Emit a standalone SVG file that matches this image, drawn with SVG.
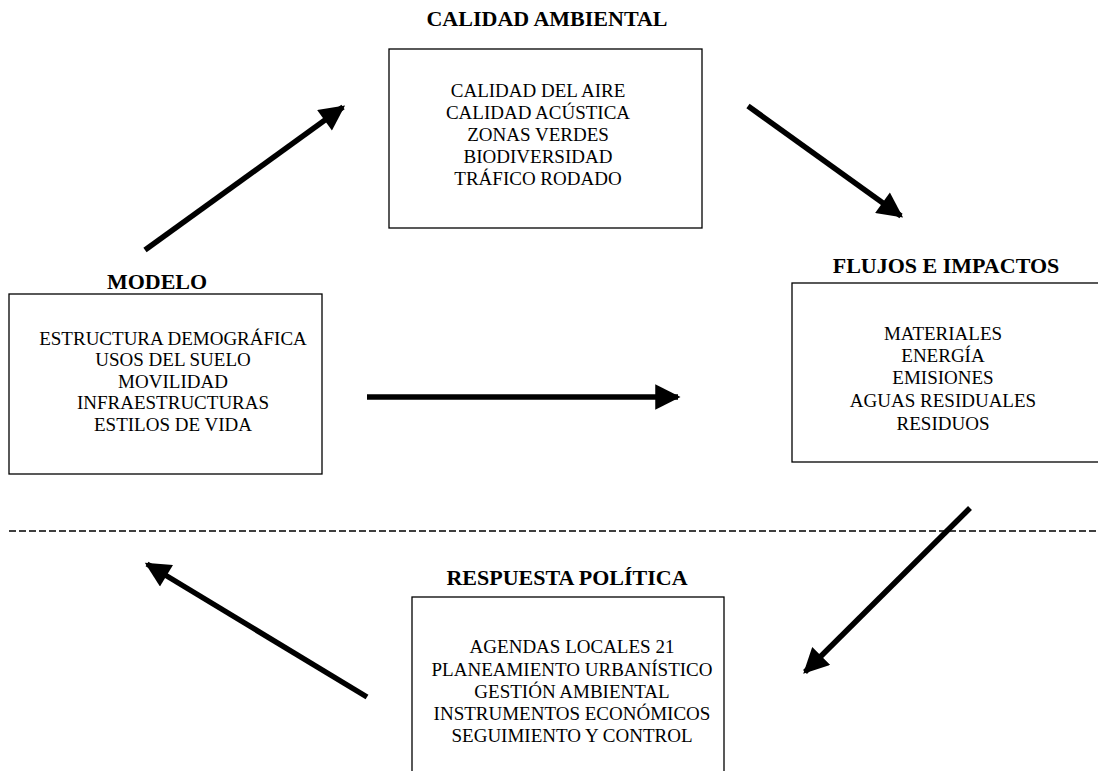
<svg xmlns="http://www.w3.org/2000/svg" width="1098" height="771" viewBox="0 0 1098 771">
<style>
.box{fill:#fff;stroke:#000;stroke-width:1.3}
.title{font-family:"Liberation Serif","Times New Roman",serif;font-weight:bold;font-size:22px;text-anchor:middle;fill:#000}
.body{font-family:"Liberation Serif","Times New Roman",serif;font-size:19px;text-anchor:middle;fill:#000}
.arrow{stroke:#000;stroke-width:5.5;fill:none;marker-end:url(#ah)}
.dash{stroke:#000;stroke-width:1.5;stroke-dasharray:7 3;fill:none}
</style>
<defs>
<marker id="ah" viewBox="0 0 10 10" refX="9" refY="5" markerWidth="4.8" markerHeight="4.6" markerUnits="strokeWidth" orient="auto">
<path d="M0,0 L10,5 L0,10 z" fill="#000"/>
</marker>
</defs>
<rect width="1098" height="771" fill="#fff"/>
<g id="connectors">
<line class="dash" x1="9" y1="531" x2="1098" y2="531"/>
<line class="arrow" x1="145" y1="250" x2="343" y2="107"/>
<line class="arrow" x1="748" y1="106" x2="901" y2="216"/>
<line class="arrow" x1="367" y1="397" x2="678" y2="397"/>
<line class="arrow" x1="970" y1="508" x2="805" y2="672"/>
<line class="arrow" x1="367" y1="697" x2="147" y2="564"/>
</g>
<g id="calidad">
<text class="title" x="547" y="26">CALIDAD AMBIENTAL</text>
<rect class="box" x="389" y="49" width="313" height="179"/>
<text class="body" x="538" y="97">CALIDAD DEL AIRE</text>
<text class="body" x="538" y="119">CALIDAD ACÚSTICA</text>
<text class="body" x="538" y="141">ZONAS VERDES</text>
<text class="body" x="538" y="163">BIODIVERSIDAD</text>
<text class="body" x="538" y="185">TRÁFICO RODADO</text>
</g>
<g id="modelo">
<text class="title" x="157" y="289">MODELO</text>
<rect class="box" x="9" y="294" width="313" height="180"/>
<text class="body" x="173" y="345">ESTRUCTURA DEMOGRÁFICA</text>
<text class="body" x="173" y="366">USOS DEL SUELO</text>
<text class="body" x="173" y="388">MOVILIDAD</text>
<text class="body" x="173" y="409">INFRAESTRUCTURAS</text>
<text class="body" x="173" y="431">ESTILOS DE VIDA</text>
</g>
<g id="flujos">
<text class="title" x="946" y="273">FLUJOS E IMPACTOS</text>
<rect class="box" x="792" y="283" width="310" height="179"/>
<text class="body" x="943" y="340">MATERIALES</text>
<text class="body" x="943" y="362">ENERGÍA</text>
<text class="body" x="943" y="384">EMISIONES</text>
<text class="body" x="943" y="407">AGUAS RESIDUALES</text>
<text class="body" x="943" y="430">RESIDUOS</text>
</g>
<g id="respuesta">
<text class="title" x="567" y="585">RESPUESTA POLÍTICA</text>
<rect class="box" x="412" y="597" width="312" height="180"/>
<text class="body" x="572" y="653">AGENDAS LOCALES 21</text>
<text class="body" x="572" y="676">PLANEAMIENTO URBANÍSTICO</text>
<text class="body" x="572" y="698">GESTIÓN AMBIENTAL</text>
<text class="body" x="572" y="720">INSTRUMENTOS ECONÓMICOS</text>
<text class="body" x="572" y="742">SEGUIMIENTO Y CONTROL</text>
</g>
</svg>
